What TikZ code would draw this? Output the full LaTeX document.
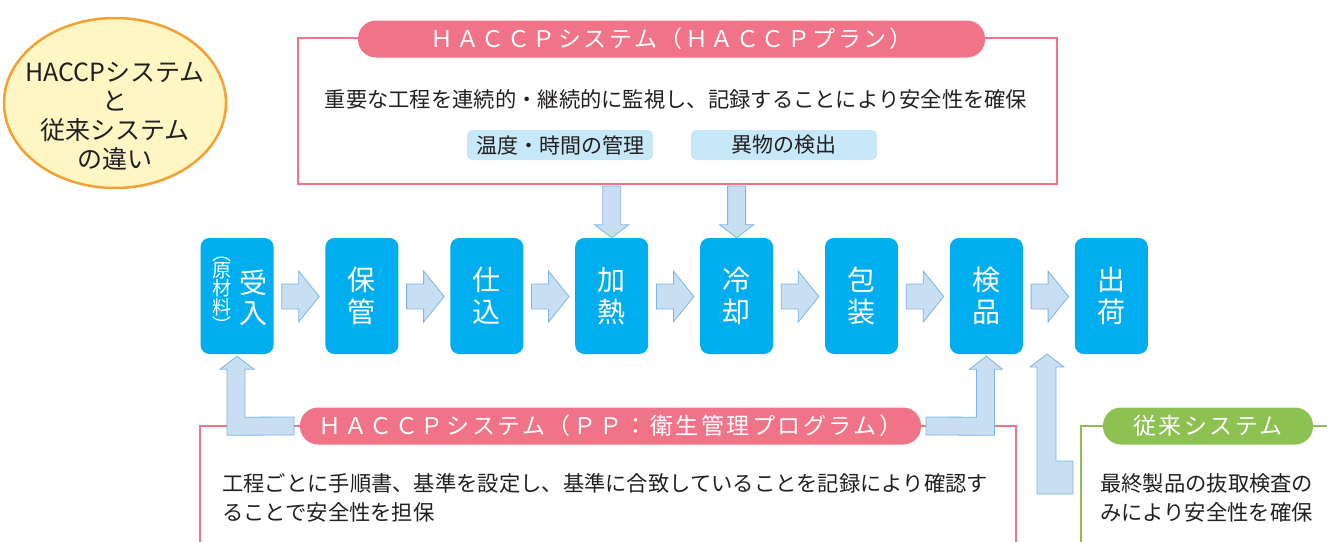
\documentclass[tikz,border=0pt]{standalone}
\usepackage{fontspec}
\setmainfont{Noto Sans CJK JP}
\newfontfamily\hdrfont{Noto Sans CJK JP}[LetterSpace=11]
\usepackage{tikz}
\usetikzlibrary{positioning,calc,shapes.geometric}

\definecolor{procblue}{HTML}{00AEEF}
\definecolor{arrowfill}{HTML}{C8DFF3}
\definecolor{arrowedge}{HTML}{7EB4E2}
\definecolor{haccppink}{HTML}{F07388}
\definecolor{tradgreen}{HTML}{8DC151}
\definecolor{ellfill}{HTML}{FFF6C4}
\definecolor{ellline}{HTML}{F5A032}
\definecolor{tagfill}{HTML}{C6E8F8}
\definecolor{bodytext}{HTML}{231F20}

\begin{document}
\begin{tikzpicture}[
  x=1pt, y=-1pt,
  stepbox/.style={rectangle, rounded corners=9pt, fill=procblue, text=white, minimum width=73pt, minimum height=116pt, inner sep=0pt, align=center, font=\fontsize{28}{32}\selectfont},
  pill/.style={rectangle, rounded corners=18pt, text=white, inner sep=0pt, minimum height=37pt, font=\hdrfont\fontsize{23}{26}\selectfont},
  pinkframe/.style={draw=haccppink, line width=2pt, inner sep=0pt},
  blockarrow/.style={draw=arrowedge, fill=arrowfill, line width=0.8pt, line join=miter},
  body/.style={text=bodytext, inner sep=0pt, align=left, font=\fontsize{21.3}{28.5}\selectfont},
  tag/.style={rectangle, rounded corners=5pt, fill=tagfill, text=bodytext, minimum width=186pt, minimum height=30pt, inner sep=0pt, font=\fontsize{21}{24}\selectfont}
]
\useasboundingbox (0,0) rectangle (1327,541);

% Title bubble
\node[ellipse, draw=ellline, line width=2.5pt, fill=ellfill, minimum width=222pt, minimum height=170pt] (title) at (115,103) {};
\node[text=bodytext, align=center, font=\fontsize{25}{29}\selectfont] (titletext) at (115,116) {HACCPシステム\\と\\従来システム\\の違い};

% HACCP plan frame (top)
\node[pinkframe, minimum width=759pt, minimum height=146pt] (plan) at (677.5,111) {};
\node[pill, fill=haccppink, minimum width=627pt] (planhead) at (671.5,39) {ＨＡＣＣＰシステム（ＨＡＣＣＰプラン）};
\node[body] (plantext) at (676,99) {重要な工程を連続的・継続的に監視し、記録することにより安全性を確保};
\node[tag] (temp) at (560,145) {温度・時間の管理};
\node[tag] (foreign) at (784,145) {異物の検出};

% Process row
\node[stepbox] (recv) at (237,296) {};
\node[text=white, align=center, font=\fontsize{28}{30}\selectfont] (recvmain) at ($(recv.center)+(16,1.5)$) {受\\入};
\node[text=white, align=center, font=\fontsize{19}{17}\selectfont] (recvsub) at ($(recv.center)+(-15,-1.5)$) {︵\\原\\材\\料\\︶};
\node[stepbox, right=51.5pt of recv] (store) {保\\管};
\node[stepbox, right=51.5pt of store] (prep) {仕\\込};
\node[stepbox, right=51.5pt of prep] (heat) {加\\熱};
\node[stepbox, right=51.5pt of heat] (cool) {冷\\却};
\node[stepbox, right=51.5pt of cool] (pack) {包\\装};
\node[stepbox, right=51.5pt of pack] (insp) {検\\品};
\node[stepbox, right=51.5pt of insp] (ship) {出\\荷};

\foreach \a/\b in {recv/store, store/prep, prep/heat, heat/cool, cool/pack, pack/insp, insp/ship}
  \draw[blockarrow] ($(\a.east)+(8,-12)$) -- ++(17,0) -- ++(0,-13) -- ($(\b.west)+(-6,0.5)$) -- ($(\a.east)+(25,26)$) -- ++(0,-13) -- ++(-17,0) -- cycle;

% plan -> heating / cooling
\foreach \b in {heat, cool}
  \draw[blockarrow] ($(plan.south -| \b.north)+(-9,1)$) -- ($(\b.north)+(-9,-13)$) -- ++(-8,0) -- (\b.north) -- ++(17,-13) -- ++(-8,0) -- ($(plan.south -| \b.north)+(9,1)$) -- cycle;

% PP frame (bottom)
\node[pinkframe, minimum width=816pt, minimum height=200pt, anchor=north west] (pp) at (199,425) {};
\draw[blockarrow] ($(pp.north west)+(95,-8)$) -- ++(0,18) -- ($(recv.south)+(-10,81)$) -- ($(recv.south)+(-10,15)$) -- ++(-7,0) -- ($(recv.south)+(0,2)$) -- ++(17,13) -- ++(-9,0) -- ($(recv.south)+(8,63)$) -- cycle;
\draw[blockarrow] ($(pp.north west)+(727,-8)$) -- ++(0,18) -- ($(insp.south)+(8,81)$) -- ($(insp.south)+(8,15)$) -- ++(8,0) -- ($(insp.south)+(0,2)$) -- ++(-17,13) -- ++(7,0) -- ($(insp.south)+(-10,63)$) -- cycle;
\node[pill, fill=haccppink, minimum width=621pt] (pphead) at (610.5,426) {ＨＡＣＣＰシステム（ＰＰ：衛生管理プログラム）};
\node[body, anchor=west] (pptext) at (222,498) {工程ごとに手順書、基準を設定し、基準に合致していることを記録により確認す\\ることで安全性を担保};

% Conventional system (right)
\coordinate (tradtip) at (1047,354);
\draw[blockarrow] (tradtip) -- ++(17,13) -- ++(-8,0) -- ++(0,94) -- ++(17,0) -- ++(0,33) -- ++(-36,0) -- ++(0,-127) -- ++(-7,0) -- cycle;
\node[draw=tradgreen, line width=2pt, inner sep=0pt, minimum width=300pt, minimum height=200pt, anchor=north west] (trad) at (1080,425) {};
\node[pill, fill=tradgreen, minimum width=210pt] (tradhead) at (1208,426) {従来システム};
\node[body, anchor=west] (tradtext) at (1100,498) {最終製品の抜取検査の\\みにより安全性を確保};
\end{tikzpicture}
\end{document}
